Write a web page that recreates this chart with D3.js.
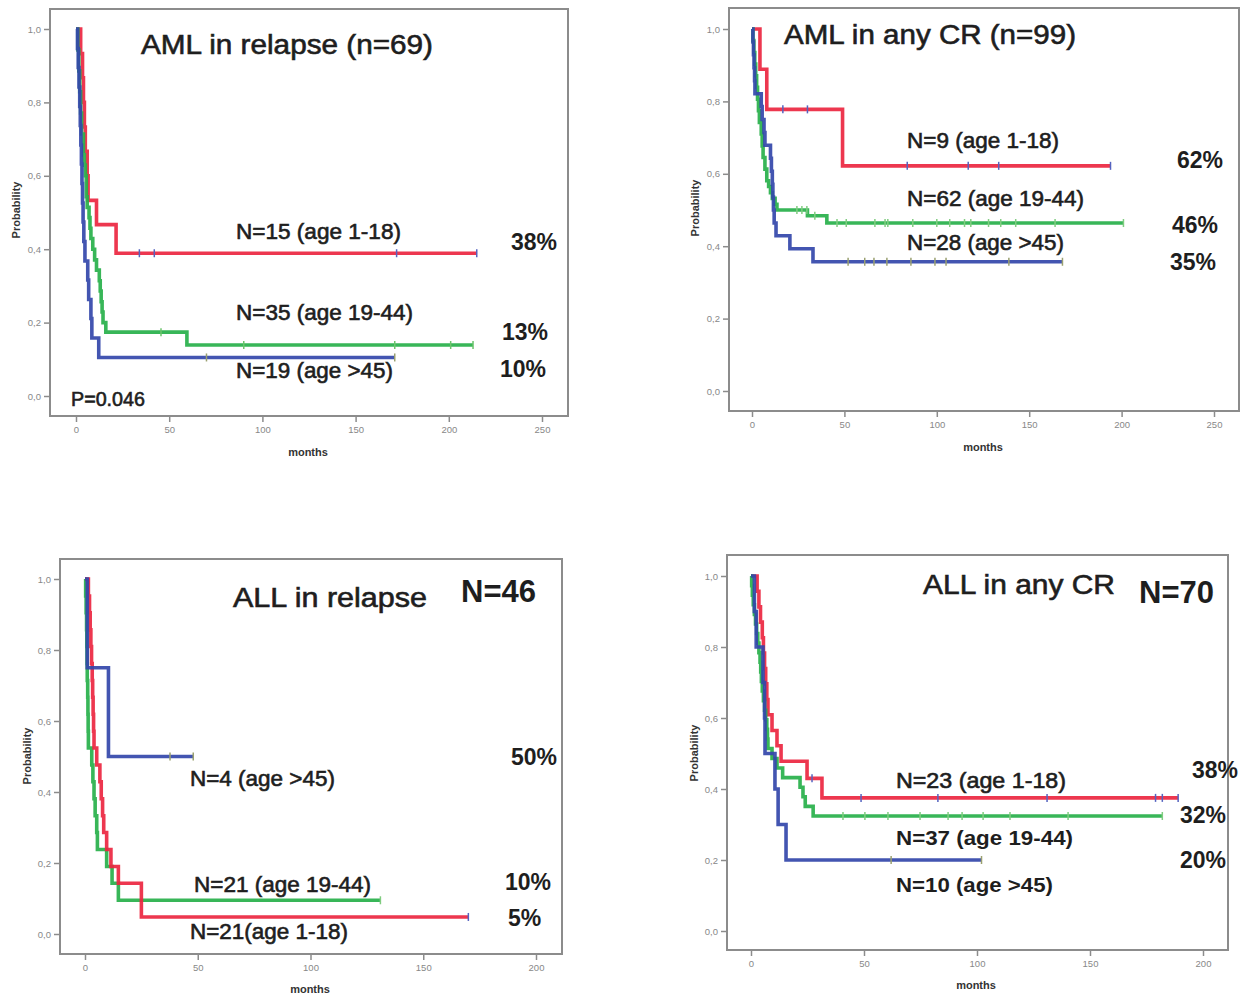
<!DOCTYPE html>
<html>
<head>
<meta charset="utf-8">
<script src="https://cdn.jsdelivr.net/npm/d3@7"></script>
<style>
  body { margin: 0; background: #fff; }
  svg { display: block; font-family: "Liberation Sans", Arial, sans-serif; }
</style>
</head>
<body>
<svg id="chart" width="1247" height="996"></svg>
<script>
// ---- data: [months, survival probability] step points, end of follow-up, censored times ----
const amlRelRed = [[0,1],[2.5,0.933],[3.5,0.867],[4,0.8],[4.5,0.733],[5,0.667],[6,0.6],[6.5,0.533],[11,0.467],[21.5,0.389]];
const amlRelRedEnd = 215;
const amlRelRedCens = [34, 42, 172, 215];
const amlRelGreen = [[0,1],[1,0.943],[1.5,0.886],[2,0.829],[2.5,0.771],[3,0.714],[4,0.657],[4.5,0.629],[5,0.6],[5.5,0.543],[6,0.514],[7,0.486],[7.5,0.457],[8,0.429],[9,0.4],[10,0.371],[11,0.343],[12.5,0.314],[13,0.286],[13.5,0.257],[14,0.229],[14.5,0.2],[16,0.174],[59.5,0.139]];
const amlRelGreenEnd = 213;
const amlRelGreenCens = [45.6, 90, 171, 201, 213];
const amlRelBlue = [[0,1],[0.8,0.947],[1.2,0.895],[1.6,0.842],[2,0.789],[2.3,0.737],[2.6,0.684],[2.9,0.632],[3.2,0.579],[3.5,0.526],[3.8,0.474],[4.2,0.421],[4.8,0.368],[6.3,0.316],[6.8,0.263],[8,0.211],[8.5,0.158],[12.2,0.105]];
const amlRelBlueEnd = 171;
const amlRelBlueCens = [70, 171];

const amlCrRed = [[0,1],[4.3,0.889],[8,0.778],[49,0.622]];
const amlCrRedEnd = 194;
const amlCrRedCens = [16.7, 30, 84, 117, 133.5, 194];
const amlCrGreen = [[0,1],[0.5,0.968],[1,0.935],[1.5,0.903],[2,0.871],[2.5,0.839],[3,0.806],[3.5,0.774],[4,0.742],[5,0.71],[5.5,0.677],[6,0.645],[7,0.613],[8,0.581],[9,0.565],[10,0.548],[11,0.532],[12.5,0.516],[13.5,0.5],[30,0.484],[40.5,0.464]];
const amlCrGreenEnd = 201;
const amlCrGreenCens = [24.3, 27, 29.7, 34, 46, 51, 66.5, 72, 73.5, 87, 100, 107, 115, 118.4, 128, 134.6, 142.7, 164, 201];
const amlCrBlue = [[0,1],[0.5,0.964],[0.8,0.929],[1.1,0.893],[1.4,0.857],[1.6,0.821],[5,0.786],[5.5,0.75],[6.5,0.714],[7,0.679],[10,0.643],[10.5,0.607],[11,0.571],[11.3,0.536],[11.6,0.5],[12,0.464],[13,0.429],[20.5,0.393],[33,0.357]];
const amlCrBlueEnd = 168;
const amlCrBlueCens = [52, 61, 66, 73, 86, 99, 105, 139, 168];

const allRelRed = [[0,1],[1.5,0.952],[2,0.905],[2.3,0.857],[2.6,0.81],[2.9,0.762],[3.2,0.714],[3.4,0.667],[3.6,0.619],[3.8,0.571],[4,0.524],[5.2,0.476],[6.6,0.429],[7.2,0.381],[7.8,0.333],[8.3,0.286],[9.6,0.238],[11.5,0.19],[14.8,0.143],[25,0.048]];
const allRelRedEnd = 170;
const allRelRedCens = [170];
const allRelGreen = [[0,1],[0.3,0.952],[0.5,0.905],[0.7,0.857],[0.8,0.81],[0.9,0.762],[1,0.714],[1.2,0.667],[1.3,0.619],[1.4,0.571],[1.5,0.524],[3,0.476],[3.5,0.429],[4,0.381],[4.5,0.333],[5.2,0.286],[5.5,0.238],[9.6,0.19],[12,0.143],[14.8,0.095]];
const allRelGreenEnd = 131;
const allRelGreenCens = [131];
const allRelBlue = [[0,1],[1,0.75],[10.4,0.5]];
const allRelBlueEnd = 48;
const allRelBlueCens = [37.7, 48];

const allCrRed = [[0,1],[2.7,0.957],[3.5,0.913],[4.2,0.87],[5,0.826],[5.5,0.783],[6,0.739],[6.5,0.696],[7,0.652],[7.5,0.609],[9.3,0.565],[11.5,0.522],[13.3,0.478],[24.8,0.43],[31.4,0.375]];
const allCrRedEnd = 189;
const allCrRedCens = [27, 48.7, 82.7, 131, 179, 182, 189];
const allCrGreen = [[0,1],[0.3,0.973],[0.6,0.946],[1,0.919],[1.5,0.892],[2,0.865],[2.5,0.838],[3,0.811],[3.5,0.784],[4,0.757],[4.3,0.73],[4.6,0.703],[5,0.676],[5.5,0.649],[6,0.622],[6.5,0.595],[7,0.568],[7.3,0.541],[7.5,0.514],[9.3,0.486],[11.5,0.459],[14,0.432],[21.7,0.405],[23,0.378],[24,0.351],[27.5,0.324]];
const allCrGreenEnd = 182;
const allCrGreenCens = [40.7, 50.4, 60.6, 74.8, 87.2, 93.4, 102.7, 114.6, 140.3, 182];
const allCrBlue = [[0,1],[1.5,0.9],[2.3,0.8],[5.3,0.7],[6,0.6],[6.2,0.5],[10.6,0.4],[12,0.3],[15.5,0.2]];
const allCrBlueEnd = 102;
const allCrBlueCens = [62, 102];

const yTicks = [0, 0.2, 0.4, 0.6, 0.8, 1.0];
const xTicksAml = [0, 50, 100, 150, 200, 250];
const xTicksAll = [0, 50, 100, 150, 200];

const RED = "#ec2640", GREEN = "#27b04a", BLUE = "#3346aa";

const svg = d3.select("#chart");
const bisectT = d3.bisector(d => d[0]).right;

function drawPanel(p) {
  const g = svg.append("g");
  const x = d3.scaleLinear().domain([0, p.xMax]).range(p.xRange);
  const y = d3.scaleLinear().domain([0, 1]).range(p.yRange);

  // frame
  g.append("rect")
    .attr("x", p.frame[0]).attr("y", p.frame[1])
    .attr("width", p.frame[2]).attr("height", p.frame[3])
    .attr("fill", "none").attr("stroke", "#8c8c8c").attr("stroke-width", 2);

  // axes, ticks sitting on the frame
  const yAxis = g.append("g")
    .attr("transform", `translate(${p.frame[0]},0)`)
    .call(d3.axisLeft(y).tickValues(yTicks).tickSize(6).tickFormat(d => d3.format(".1f")(d).replace(".", ",")));
  const xAxis = g.append("g")
    .attr("transform", `translate(0,${p.frame[1] + p.frame[3]})`)
    .call(d3.axisBottom(x).tickValues(p.xTicks).tickSize(6).tickPadding(4));
  [yAxis, xAxis].forEach(a => {
    a.select(".domain").remove();
    a.selectAll("line").attr("stroke", "#8c8c8c").attr("stroke-width", 1.5);
    a.selectAll("text").attr("fill", "#888").attr("font-size", 9.5).attr("font-family", "Liberation Sans, Arial");
  });

  g.append("text")
    .attr("transform", `translate(${p.yLab[0]},${p.yLab[1]}) rotate(-90)`)
    .attr("text-anchor", "middle").attr("font-size", 11).attr("font-weight", "bold").attr("fill", "#333")
    .text("Probability");
  g.append("text")
    .attr("x", p.xLab[0]).attr("y", p.xLab[1])
    .attr("text-anchor", "middle").attr("font-size", 11).attr("font-weight", "bold").attr("fill", "#333")
    .text("months");

  const line = d3.line().x(d => x(d[0])).y(d => y(d[1])).curve(d3.curveStepAfter);
  p.series.forEach(s => {
    const pts = s.steps.concat([[s.end, s.steps[s.steps.length - 1][1]]]);
    g.append("path").datum(pts)
      .attr("d", line)
      .attr("fill", "none").attr("stroke", s.color).attr("stroke-width", 3.6)
      .attr("stroke-opacity", 0.92);
    // censored marks sit on the curve at their own time
    const survAt = t => s.steps[Math.max(0, bisectT(s.steps, t) - 1)][1];
    g.selectAll(null).data(s.cens).enter().append("line")
      .attr("x1", d => x(d)).attr("x2", d => x(d))
      .attr("y1", d => y(survAt(d)) - 4).attr("y2", d => y(survAt(d)) + 4)
      .attr("stroke", s.mark).attr("stroke-width", 1.5);
  });

  p.texts.forEach(t => {
    const el = g.append("text")
      .attr("x", t.x).attr("y", t.y)
      .attr("font-size", t.size)
      .attr("font-weight", t.bold ? "bold" : "normal")
      .attr("fill", "#1e1e1e")
      .text(t.s);
    if (t.len) el.attr("textLength", t.len).attr("lengthAdjust", "spacingAndGlyphs");
    if (t.heavy) el.attr("stroke", "#1e1e1e").attr("stroke-width", 0.6);
  });
}

drawPanel({
  frame: [50, 9, 518, 407], xMax: 250, xRange: [76, 542], yRange: [396, 29], xTicks: xTicksAml,
  yLab: [20, 210], xLab: [308, 456],
  series: [
    { steps: amlRelRed, end: amlRelRedEnd, cens: amlRelRedCens, color: RED, mark: "#5563c0" },
    { steps: amlRelGreen, end: amlRelGreenEnd, cens: amlRelGreenCens, color: GREEN, mark: "#6cc46c" },
    { steps: amlRelBlue, end: amlRelBlueEnd, cens: amlRelBlueCens, color: BLUE, mark: "#9aa070" }
  ],
  texts: [
    { s: "AML in relapse (n=69)", x: 141, y: 54, size: 27, len: 292, heavy: true },
    { s: "N=15 (age 1-18)", x: 236, y: 239, size: 21.5, len: 165, heavy: true },
    { s: "38%", x: 511, y: 250, size: 23, bold: true },
    { s: "N=35 (age 19-44)", x: 236, y: 320, size: 21.5, len: 177, heavy: true },
    { s: "13%", x: 502, y: 340, size: 23, bold: true },
    { s: "N=19 (age >45)", x: 236, y: 378, size: 21.5, len: 157, heavy: true },
    { s: "10%", x: 500, y: 377, size: 23, bold: true },
    { s: "P=0.046", x: 71, y: 406, size: 20, len: 74, heavy: true }
  ]
});

drawPanel({
  frame: [729, 8, 510, 403], xMax: 250, xRange: [752, 1214], yRange: [391, 29], xTicks: xTicksAml,
  yLab: [699, 208], xLab: [983, 451],
  series: [
    { steps: amlCrRed, end: amlCrRedEnd, cens: amlCrRedCens, color: RED, mark: "#5563c0" },
    { steps: amlCrGreen, end: amlCrGreenEnd, cens: amlCrGreenCens, color: GREEN, mark: "#80cc80" },
    { steps: amlCrBlue, end: amlCrBlueEnd, cens: amlCrBlueCens, color: BLUE, mark: "#9aa070" }
  ],
  texts: [
    { s: "AML in any CR (n=99)", x: 784, y: 44, size: 27, len: 292, heavy: true },
    { s: "N=9 (age 1-18)", x: 907, y: 148, size: 21.5, len: 152, heavy: true },
    { s: "62%", x: 1177, y: 168, size: 23, bold: true },
    { s: "N=62 (age 19-44)", x: 907, y: 206, size: 21.5, len: 177, heavy: true },
    { s: "46%", x: 1172, y: 233, size: 23, bold: true },
    { s: "N=28 (age >45)", x: 907, y: 250, size: 21.5, len: 157, heavy: true },
    { s: "35%", x: 1170, y: 270, size: 23, bold: true }
  ]
});

drawPanel({
  frame: [60, 559, 502, 395], xMax: 200, xRange: [85, 536], yRange: [934, 579], xTicks: xTicksAll,
  yLab: [31, 756], xLab: [310, 993],
  series: [
    { steps: allRelGreen, end: allRelGreenEnd, cens: allRelGreenCens, color: GREEN, mark: "#80cc80" },
    { steps: allRelRed, end: allRelRedEnd, cens: allRelRedCens, color: RED, mark: "#5563c0" },
    { steps: allRelBlue, end: allRelBlueEnd, cens: allRelBlueCens, color: BLUE, mark: "#9aa070" }
  ],
  texts: [
    { s: "ALL in relapse", x: 233, y: 607, size: 27, len: 194, heavy: true },
    { s: "N=46", x: 461, y: 602, size: 31, bold: true },
    { s: "50%", x: 511, y: 765, size: 23, bold: true },
    { s: "N=4 (age >45)", x: 190, y: 786, size: 21.5, len: 145, heavy: true },
    { s: "N=21 (age 19-44)", x: 194, y: 892, size: 21.5, len: 177, heavy: true },
    { s: "10%", x: 505, y: 890, size: 23, bold: true },
    { s: "N=21(age 1-18)", x: 190, y: 939, size: 21.5, len: 158, heavy: true },
    { s: "5%", x: 508, y: 926, size: 23, bold: true }
  ]
});

drawPanel({
  frame: [727, 555, 501, 395], xMax: 200, xRange: [751, 1203], yRange: [931, 576], xTicks: xTicksAll,
  yLab: [698, 753], xLab: [976, 989],
  series: [
    { steps: allCrRed, end: allCrRedEnd, cens: allCrRedCens, color: RED, mark: "#5563c0" },
    { steps: allCrGreen, end: allCrGreenEnd, cens: allCrGreenCens, color: GREEN, mark: "#80cc80" },
    { steps: allCrBlue, end: allCrBlueEnd, cens: allCrBlueCens, color: BLUE, mark: "#9aa070" }
  ],
  texts: [
    { s: "ALL in any CR", x: 923, y: 594, size: 27, len: 192, heavy: true },
    { s: "N=70", x: 1139, y: 603, size: 31, bold: true },
    { s: "38%", x: 1192, y: 778, size: 23, bold: true },
    { s: "N=23  (age 1-18)", x: 896, y: 788, size: 21.5, len: 170, heavy: true },
    { s: "32%", x: 1180, y: 823, size: 23, bold: true },
    { s: "N=37 (age 19-44)", x: 896, y: 845, size: 21, bold: true, len: 177 },
    { s: "20%", x: 1180, y: 868, size: 23, bold: true },
    { s: "N=10 (age >45)", x: 896, y: 892, size: 21, bold: true, len: 157 }
  ]
});
</script>
</body>
</html>
